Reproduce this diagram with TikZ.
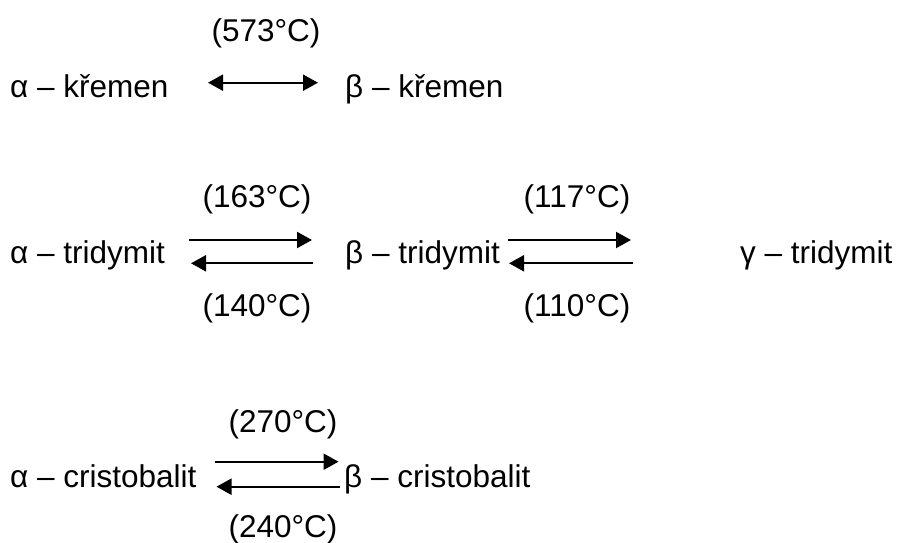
\documentclass[tikz,border=0pt]{standalone}
\usepackage{fontspec}
\setmainfont{Liberation Sans}
\usetikzlibrary{arrows.meta,positioning}

\begin{document}
\begin{tikzpicture}[
    x=1pt, y=-1pt,
    font=\fontsize{31.5}{38}\selectfont,
    latka/.style={anchor=base west, inner sep=0pt},
    teplota/.style={anchor=base, inner sep=0pt},
    sipka/.style={line width=2.2pt, -{Triangle[length=15pt, width=16pt]}},
    obousipka/.style={line width=2.2pt, {Triangle[length=15pt, width=16pt]}-{Triangle[length=15pt, width=16pt]}}
]

  % Plocha obrazku
  \useasboundingbox (0, 0) rectangle (899, 543);

  % =========================================================================
  % KREMEN
  % =========================================================================
  \node[latka] (kremen_a) at (10, 97) {α – křemen};
  \node[latka] (kremen_b) at (345, 97) {β – křemen};
  \node[teplota] (t573) at (266, 42) {(573°C)};

  \coordinate (k_l) at (208, 82.7);
  \coordinate (k_p) at (318, 82.7);
  \draw[obousipka] (k_l) -- (k_p);

  % =========================================================================
  % TRIDYMIT
  % =========================================================================
  \node[latka] (tridymit_a) at (10, 263) {α – tridymit};
  \node[latka] (tridymit_b) at (345, 263) {β – tridymit};
  \node[latka] (tridymit_g) at (740, 263) {γ – tridymit};

  \node[teplota] (t163) at (257, 207) {(163°C)};
  \node[teplota] (t140) at (257, 316.5) {(140°C)};
  \node[teplota] (t117) at (577, 207) {(117°C)};
  \node[teplota] (t110) at (577, 316.5) {(110°C)};

  % alfa <-> beta
  \coordinate (ab_h1) at (189, 240);
  \coordinate (ab_h2) at (312, 240);
  \coordinate (ab_d1) at (313, 263.3);
  \coordinate (ab_d2) at (191, 263.3);
  \draw[sipka] (ab_h1) -- (ab_h2);
  \draw[sipka] (ab_d1) -- (ab_d2);

  % beta <-> gama
  \coordinate (bg_h1) at (507.5, 240);
  \coordinate (bg_h2) at (631, 240);
  \coordinate (bg_d1) at (632.5, 263.3);
  \coordinate (bg_d2) at (509, 263.3);
  \draw[sipka] (bg_h1) -- (bg_h2);
  \draw[sipka] (bg_d1) -- (bg_d2);

  % =========================================================================
  % CRISTOBALIT
  % =========================================================================
  \node[latka] (cristobalit_a) at (10, 487) {α – cristobalit};
  \node[latka] (cristobalit_b) at (344, 487) {β – cristobalit};

  \node[teplota] (t270) at (283, 432.7) {(270°C)};
  \node[teplota] (t240) at (283, 537) {(240°C)};

  \coordinate (c_h1) at (215, 461.7);
  \coordinate (c_h2) at (338.5, 461.7);
  \coordinate (c_d1) at (339.5, 486.7);
  \coordinate (c_d2) at (216.5, 486.7);
  \draw[sipka] (c_h1) -- (c_h2);
  \draw[sipka] (c_d1) -- (c_d2);

\end{tikzpicture}
\end{document}
